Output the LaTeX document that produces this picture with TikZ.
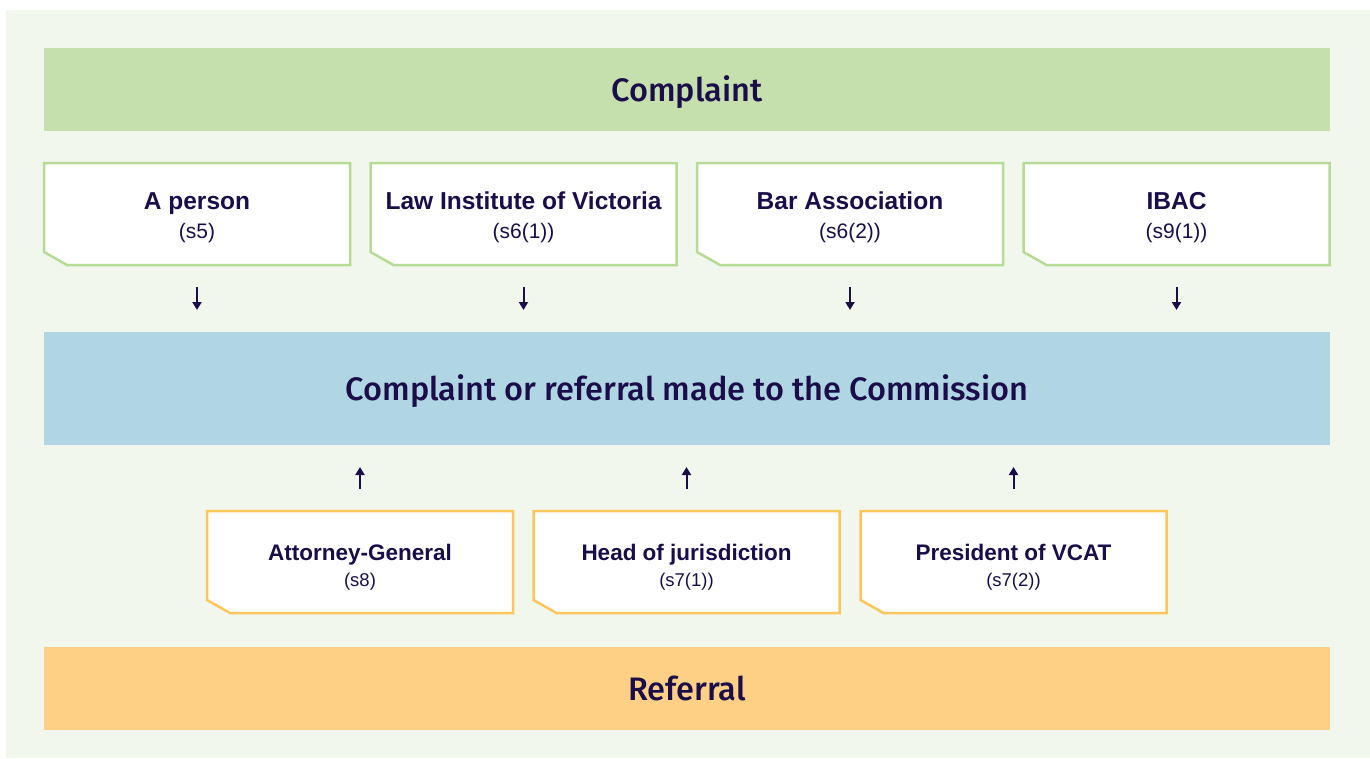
\documentclass[tikz,border=0pt]{standalone}
\usepackage{fontspec}
\setmainfont{Liberation Sans}
\newfontfamily\headfont{Fira Sans Medium}
\usetikzlibrary{arrows.meta,backgrounds}
\definecolor{navy}{RGB}{26,13,74}
\definecolor{paleBg}{RGB}{242,247,238}
\definecolor{complaintGreen}{RGB}{197,224,172}
\definecolor{complaintLine}{RGB}{182,219,148}
\definecolor{commissionBlue}{RGB}{176,213,227}
\definecolor{referralOrange}{RGB}{253,208,134}
\definecolor{referralLine}{RGB}{253,198,90}
\begin{document}
\begin{tikzpicture}
[x=1pt,y=-1pt,
  barDecorate/.style={shape=rectangle,minimum width=1286pt,inner sep=0pt,
    outer sep=0pt,text=navy,text height=23pt,text depth=0pt,
    font=\headfont\fontsize{32.5}{40}\selectfont},
  boxDecorate/.style={shape=rectangle,minimum width=306pt,minimum height=102pt,
    inner sep=0pt,outer sep=0pt},
  cornerDecorate/.style={fill=white,draw=#1,line width=2.5pt},
  textDecorate/.style={text=navy,align=center},
  lineDecorate/.style={-{Triangle[length=8pt,width=9pt]},line width=2pt,draw=navy,
    shorten <=22pt,shorten >=22pt}]
%% background
\begin{scope}[on background layer]
  \fill[white] (0,0) rectangle (1370,758);
  \fill[paleBg] (6,10) rectangle (1370,758);
\end{scope}
\useasboundingbox (0,0) rectangle (1370,758);
%% bars
\node (complaint) at (687,89.5) [barDecorate,fill=complaintGreen,minimum height=83pt] {Complaint};
\node (commission) at (687,388.5) [barDecorate,fill=commissionBlue,minimum height=113pt]
  {Complaint or referral made to the Commission};
\node (referral) at (687,688.5) [barDecorate,fill=referralOrange,minimum height=83pt] {Referral};
%% complainants
\foreach \nodename/\x/\name/\sect in {
  person/197/A person/s5, liv/523.5/Law Institute of Victoria/s6(1),
  bav/850/Bar Association/s6(2), ibac/1176.5/IBAC/s9(1)}
{
  \node (\nodename) at (\x,214) [boxDecorate,label={[textDecorate,yshift=-3.5pt,
    font=\fontsize{21}{29}\selectfont]center:
    {\fontsize{24.5}{29}\selectfont\bfseries \name}\\(\sect)}] {};
  \begin{scope}[on background layer]
    \filldraw[cornerDecorate=complaintLine] (\nodename.north west) -- (\nodename.north east)
      -- (\nodename.south east) -- ([xshift=23pt]\nodename.south west)
      -- ([yshift=13pt]\nodename.south west) -- cycle;
  \end{scope}
  \draw[lineDecorate] (\nodename.south) -- (\nodename.south |- commission.north);
}
%% referrers
\foreach \nodename/\x/\name/\sect in {
  ag/360/Attorney-General/s8, head/686.5/Head of jurisdiction/s7(1),
  vcat/1013.5/President of VCAT/s7(2)}
{
  \node (\nodename) at (\x,562) [boxDecorate,label={[textDecorate,yshift=-5pt,
    font=\fontsize{18.5}{26}\selectfont]center:
    {\fontsize{22.5}{26}\selectfont\bfseries \name}\\(\sect)}] {};
  \begin{scope}[on background layer]
    \filldraw[cornerDecorate=referralLine] (\nodename.north west) -- (\nodename.north east)
      -- (\nodename.south east) -- ([xshift=23pt]\nodename.south west)
      -- ([yshift=13pt]\nodename.south west) -- cycle;
  \end{scope}
  \draw[lineDecorate] (\nodename.north) -- (\nodename.north |- commission.south);
}
\end{tikzpicture}
\end{document}
